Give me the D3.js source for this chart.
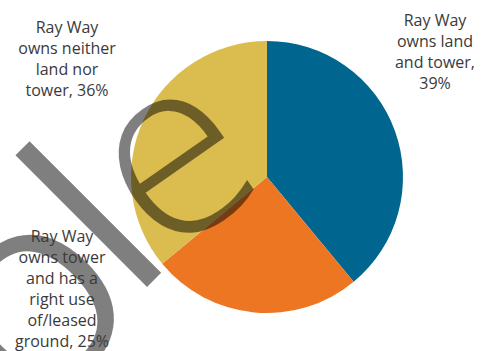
<!DOCTYPE html>
<html lang="en">
<head>
  <meta charset="UTF-8" />
  <title>Ray Way ownership pie</title>
  <style>
    body { margin: 0; background: #fff; }
    svg { display: block; }
    .label { font-family: 'Open Sans', sans-serif; font-size: 16px; fill: #3a3a3a; }
    .mark { font-family: 'Open Sans', sans-serif; fill: #000; fill-opacity: 0.5; }
  </style>
</head>
<body>
  <div id="chart"></div>

  <script src="https://d3js.org/d3.v7.min.js"></script>
  <script>
    // slices, clockwise from 12 o'clock
    const categories = ["owns land and tower", "owns tower and has a right use of/leased ground", "owns neither land nor tower"];
    const shares = [39, 25, 36];
    const colours = ["#00668f", "#ed7623", "#dbbd4f"];
    const labelLines = [
      ["Ray Way", "owns land", "and tower,", "39%"],
      ["Ray Way", "owns tower", "and has a", "right use", "of/leased", "ground, 25%"],
      ["Ray Way", "owns neither", "land nor", "tower, 36%"]
    ];
    const labelPos = [[435, 26], [62, 242], [67, 33]];

    // faint watermark letters over the chart
    const markLetters = ["O", "l", "e"];
    const markPos = [[91, 364], [154, 280], [217, 222]];
    const markSize = [210, 245, 250];
    const markWeight = [380, 380, 340];
    const markTurn = [-45, -45, -35];

    const width = 483, height = 351;
    const cx = 267, cy = 177, radius = 136;

    const svg = d3.select("#chart").append("svg")
      .attr("width", width)
      .attr("height", height);

    const pie = d3.pie().sort(null).value(d => d);
    const arc = d3.arc().innerRadius(0).outerRadius(radius);

    svg.append("g")
      .attr("transform", `translate(${cx},${cy})`)
      .selectAll("path")
      .data(pie(shares))
      .enter()
      .append("path")
      .attr("d", arc)
      .attr("fill", (d, i) => colours[i]);

    svg.selectAll(".mark")
      .data(markLetters)
      .enter()
      .append("text")
      .attr("class", "mark")
      .attr("text-anchor", "middle")
      .attr("font-size", (d, i) => markSize[i])
      .attr("font-weight", (d, i) => markWeight[i])
      .attr("transform", (d, i) => `translate(${markPos[i][0]},${markPos[i][1]}) rotate(${markTurn[i]})`)
      .text(d => d);

    labelLines.forEach((lines, i) => {
      const t = svg.append("text")
        .attr("class", "label")
        .attr("text-anchor", "middle")
        .attr("x", labelPos[i][0])
        .attr("y", labelPos[i][1]);
      lines.forEach((line, j) => {
        t.append("tspan")
          .attr("x", labelPos[i][0])
          .attr("dy", j === 0 ? 0 : 21)
          .text(line);
      });
    });
  </script>
</body>
</html>
